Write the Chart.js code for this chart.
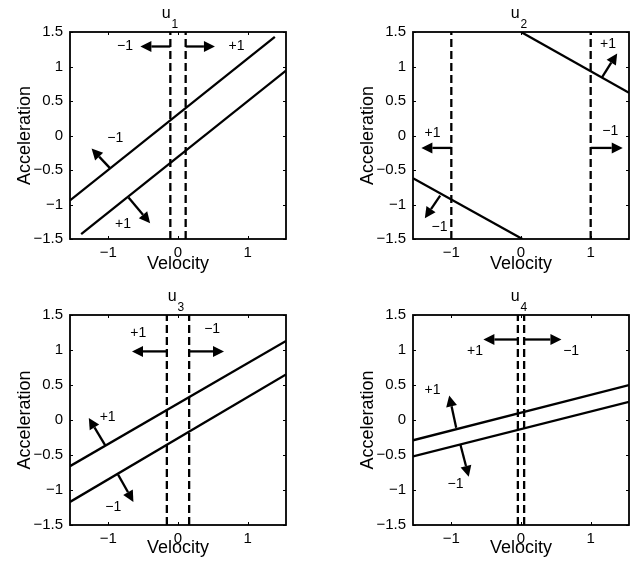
<!DOCTYPE html>
<html>
<head>
<meta charset="utf-8">
<script src="https://cdn.jsdelivr.net/npm/chart.js@4"></script>
<style>
  body { margin: 0; background: #fff; }
  canvas { position: absolute; }
</style>
</head>
<body>
<canvas id="c1"></canvas>
<canvas id="c2"></canvas>
<canvas id="c3"></canvas>
<canvas id="c4"></canvas>
<script>
// data
const panelNames = ['1', '2', '3', '4'];
const xTicks = [-1, 0, 1];
const yTicks = [-1.5, -1, -0.5, 0, 0.5, 1, 1.5];
const xRange = [-1.55, 1.55];
const yRange = [-1.5, 1.5];

// two switching lines per panel, [x, y] end points
const upperLines = [
  [[-1.55, -0.94], [1.39, 1.43]],
  [[0, 1.5], [1.55, 0.62]],
  [[-1.55, -0.66], [1.55, 1.13]],
  [[-1.55, -0.29], [1.55, 0.5]]
];
const lowerLines = [
  [[-1.39, -1.43], [1.55, 0.94]],
  [[-1.55, -0.62], [0.02, -1.5]],
  [[-1.55, -1.17], [1.55, 0.65]],
  [[-1.55, -0.52], [1.55, 0.26]]
];
// dashed velocity thresholds
const dashedX = [[-0.11, 0.11], [-1, 1], [-0.16, 0.16], [-0.045, 0.045]];

// arrows [x0, y0, x1, y1] and labels [x, y, text]
const arrows = [
  [[-0.11, 1.29, -0.54, 1.29], [0.11, 1.29, 0.53, 1.29], [-0.97, -0.48, -1.24, -0.19], [-0.71, -0.9, -0.4, -1.27]],
  [[-1, -0.18, -1.43, -0.18], [1, -0.18, 1.46, -0.18], [1.16, 0.84, 1.38, 1.19], [-1.16, -0.87, -1.38, -1.2]],
  [[-0.16, 0.98, -0.66, 0.98], [0.16, 0.98, 0.66, 0.98], [-1.04, -0.37, -1.28, 0.03], [-0.86, -0.78, -0.64, -1.17]],
  [[-0.045, 1.15, -0.54, 1.15], [0.045, 1.15, 0.58, 1.15], [-0.93, -0.11, -1.03, 0.35], [-0.87, -0.35, -0.75, -0.81]]
];
const arrowLabels = [
  [[-0.76, 1.29, '−1'], [0.84, 1.29, '+1'], [-0.9, -0.04, '−1'], [-0.79, -1.29, '+1']],
  [[-1.27, 0.04, '+1'], [1.28, 0.07, '−1'], [1.25, 1.33, '+1'], [-1.17, -1.33, '−1']],
  [[-0.57, 1.24, '+1'], [0.49, 1.3, '−1'], [-1.01, 0.04, '+1'], [-0.93, -1.24, '−1']],
  [[-0.66, 0.98, '+1'], [0.72, 0.98, '−1'], [-1.27, 0.43, '+1'], [-0.94, -0.91, '−1']]
];

// page layout: canvas box and plot box inside it
const layouts = [
  { left: 0,   top: 0,   w: 317, h: 284, plot: [70, 32, 286, 239], yPad: 14, shift: -8 },
  { left: 317, top: 0,   w: 318, h: 284, plot: [96, 32, 312, 239], yPad: 40, shift: -2 },
  { left: 0,   top: 284, w: 317, h: 284, plot: [70, 31, 286, 241], yPad: 14, shift: -2 },
  { left: 317, top: 284, w: 318, h: 284, plot: [96, 31, 312, 241], yPad: 40, shift: -2 }
];

const FONT = '"Liberation Sans", Arial, Helvetica, sans-serif';
const fmt = v => (v < 0 ? '−' + Math.abs(v) : String(v));

const overlay = {
  id: 'overlay',
  afterDatasetsDraw(chart) {
    const i = chart.options.panelIndex;
    const { ctx, chartArea: a } = chart;
    const xs = chart.scales.x, ys = chart.scales.y;
    ctx.save();

    // box with inward ticks
    ctx.strokeStyle = '#000';
    ctx.lineWidth = 1.8;
    ctx.strokeRect(a.left, a.top, a.right - a.left, a.bottom - a.top);
    ctx.lineWidth = 1;
    ctx.beginPath();
    xTicks.forEach(v => {
      const px = Math.round(xs.getPixelForValue(v)) + 0.5;
      ctx.moveTo(px, a.bottom); ctx.lineTo(px, a.bottom - 3);
      ctx.moveTo(px, a.top); ctx.lineTo(px, a.top + 3);
    });
    yTicks.forEach(v => {
      const py = Math.round(ys.getPixelForValue(v)) + 0.5;
      ctx.moveTo(a.left, py); ctx.lineTo(a.left + 3, py);
      ctx.moveTo(a.right, py); ctx.lineTo(a.right - 3, py);
    });
    ctx.stroke();

    // arrows
    ctx.fillStyle = '#000';
    ctx.lineWidth = 2.3;
    arrows[i].forEach(([x0, y0, x1, y1]) => {
      const p0 = [xs.getPixelForValue(x0), ys.getPixelForValue(y0)];
      const p1 = [xs.getPixelForValue(x1), ys.getPixelForValue(y1)];
      const ang = Math.atan2(p1[1] - p0[1], p1[0] - p0[0]);
      const hl = 11, hw = 5.5;
      const bx = p1[0] - hl * Math.cos(ang), by = p1[1] - hl * Math.sin(ang);
      ctx.beginPath();
      ctx.moveTo(p0[0], p0[1]); ctx.lineTo(bx, by);
      ctx.stroke();
      ctx.beginPath();
      ctx.moveTo(p1[0], p1[1]);
      ctx.lineTo(bx - hw * Math.sin(ang), by + hw * Math.cos(ang));
      ctx.lineTo(bx + hw * Math.sin(ang), by - hw * Math.cos(ang));
      ctx.closePath();
      ctx.fill();
    });

    // arrow labels
    ctx.font = '14px ' + FONT;
    ctx.textAlign = 'center';
    ctx.textBaseline = 'middle';
    arrowLabels[i].forEach(([x, y, t]) => {
      ctx.fillText(t, xs.getPixelForValue(x), ys.getPixelForValue(y));
    });

    // title u with subscript
    const cx = (a.left + a.right) / 2 + layouts[i].shift;
    ctx.textBaseline = 'alphabetic';
    ctx.textAlign = 'left';
    ctx.font = '16px ' + FONT;
    const uw = ctx.measureText('u').width;
    ctx.font = '12px ' + FONT;
    const sw = ctx.measureText(panelNames[i]).width;
    const x0 = cx - (uw + 1 + sw) / 2;
    ctx.font = '16px ' + FONT;
    ctx.fillText('u', x0, a.top - 14);
    ctx.font = '12px ' + FONT;
    ctx.fillText(panelNames[i], x0 + uw + 1, a.top - 4);
    ctx.restore();
  }
};

function lineSet(pts, dash) {
  return {
    data: pts.map(([x, y]) => ({ x, y })),
    showLine: true,
    borderColor: '#000',
    borderWidth: 2.3,
    borderDash: dash || [],
    pointRadius: 0,
    fill: false
  };
}

panelNames.forEach((name, i) => {
  const L = layouts[i];
  const canvas = document.getElementById('c' + (i + 1));
  canvas.width = L.w; canvas.height = L.h;
  canvas.style.left = L.left + 'px';
  canvas.style.top = L.top + 'px';
  const [pl, pt, pr, pb] = L.plot;

  const datasets = [
    lineSet(upperLines[i]),
    lineSet(lowerLines[i]),
    ...dashedX[i].map(x => lineSet([[x, yRange[0]], [x, yRange[1]]], [8, 4]))
  ];

  new Chart(canvas, {
    type: 'scatter',
    data: { datasets },
    options: {
      panelIndex: i,
      responsive: false,
      animation: false,
      events: [],
      layout: { padding: { left: 0, top: pt, right: L.w - pr, bottom: 0 } },
      plugins: { legend: { display: false }, tooltip: { enabled: false } },
      scales: {
        x: {
          type: 'linear', min: xRange[0], max: xRange[1],
          afterBuildTicks: s => { s.ticks = xTicks.map(v => ({ value: v })); },
          afterFit: s => { s.height = L.h - pb; },
          grid: { display: false, drawTicks: false }, border: { display: false },
          ticks: { callback: fmt, color: '#000', font: { family: FONT, size: 15 }, padding: 5, maxRotation: 0, autoSkip: false },
          title: { display: true, text: 'Velocity', color: '#000', font: { family: FONT, size: 18 }, padding: { top: 0, bottom: 9 } }
        },
        y: {
          type: 'linear', min: yRange[0], max: yRange[1],
          afterBuildTicks: s => { s.ticks = yTicks.map(v => ({ value: v })); },
          afterFit: s => { s.width = pl; },
          grid: { display: false, drawTicks: false }, border: { display: false },
          ticks: { callback: fmt, color: '#000', font: { family: FONT, size: 15 }, padding: 7, autoSkip: false },
          title: { display: true, text: 'Acceleration', color: '#000', font: { family: FONT, size: 18 }, padding: { top: L.yPad, bottom: 0 } }
        }
      }
    },
    plugins: [overlay]
  });
});
</script>
</body>
</html>
